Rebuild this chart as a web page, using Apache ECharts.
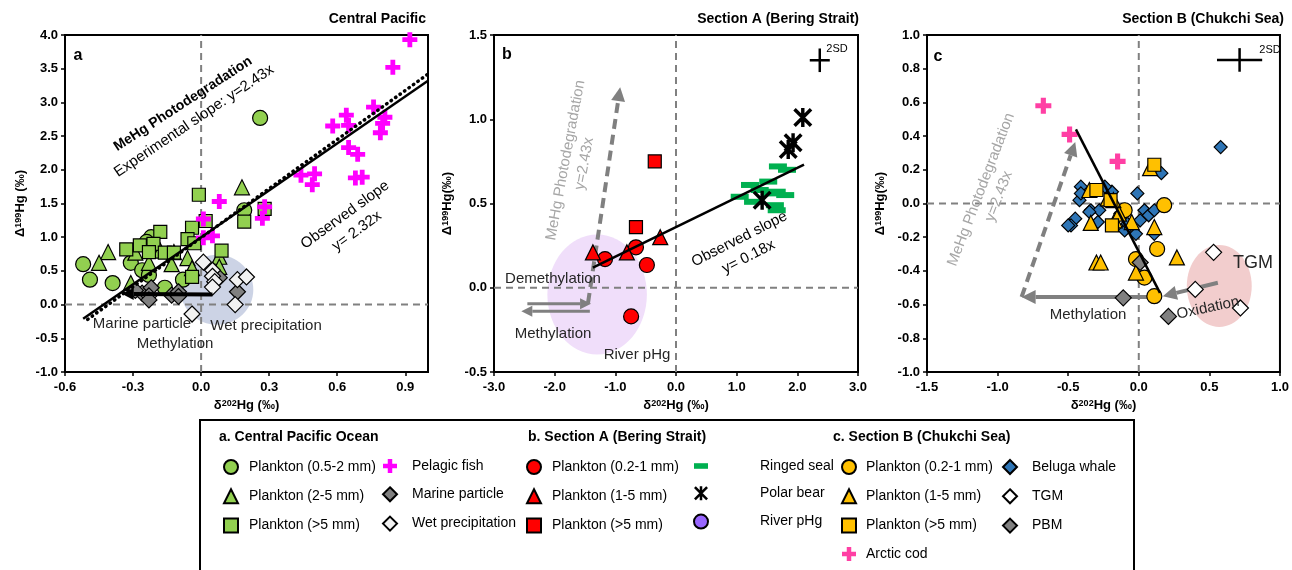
<!DOCTYPE html>
<html>
<head>
<meta charset="utf-8">
<script src="https://cdn.jsdelivr.net/npm/echarts@6/dist/echarts.min.js"></script>
<style>html,body{margin:0;padding:0;background:#fff}#chart-container{width:1292px;height:570px}</style>
</head>
<body>
<div id="chart-container"></div>
<script>
var dom = document.getElementById('chart-container');
var myChart = echarts.init(dom, null, { renderer: 'canvas' });

const FONT = '"Liberation Sans", Arial, sans-serif';

// ---- panel a : Central Pacific ----
const aCircle = [[-0.52,0.60],[-0.49,0.37],[-0.39,0.32],[-0.22,1.00],[-0.31,0.62],[-0.26,0.51],[-0.23,0.44],[-0.16,0.25],[-0.08,0.37],[0.19,1.40],[0.26,2.77],[-0.24,0.93]];
const aTri = [[-0.41,0.78],[-0.45,0.62],[-0.29,0.77],[-0.23,0.62],[-0.13,0.60],[-0.12,0.78],[-0.06,0.69],[-0.04,0.54],[0.08,0.71],[0.08,0.56],[0.18,1.74],[-0.31,0.32],[-0.18,0.80]];
const aSq = [[-0.01,1.63],[0.28,1.42],[0.19,1.23],[0.02,1.24],[-0.04,1.14],[-0.06,0.97],[-0.03,0.91],[-0.18,1.08],[-0.21,0.90],[-0.27,0.88],[-0.33,0.82],[-0.23,0.78],[-0.16,0.77],[0.09,0.80],[-0.04,0.41],[-0.12,0.77]];
const aFish = [[0.92,3.93],[0.845,3.52],[0.76,2.93],[0.64,2.81],[0.58,2.65],[0.65,2.66],[0.81,2.78],[0.80,2.69],[0.79,2.55],[0.65,2.33],[0.69,2.23],[0.44,1.92],[0.50,1.94],[0.49,1.78],[0.68,1.88],[0.71,1.89],[0.08,1.53],[0.27,1.28],[0.28,1.45],[0.01,1.27],[0.05,1.02],[0.01,0.99]];
const aParticle = [[-0.26,0.17],[-0.22,0.25],[-0.23,0.13],[-0.23,0.07],[-0.13,0.14],[-0.10,0.19],[-0.10,0.12],[0.08,0.40],[0.16,0.19],[-0.29,0.21]];
const aWet = [[0.01,0.63],[0.05,0.51],[0.05,0.42],[0.06,0.34],[0.05,0.26],[0.16,0.37],[0.20,0.41],[0.15,0.00],[-0.04,-0.14]];
const aObserved = [[-0.52,-0.21],[1.0,3.32]];
const aExperimental = [[-0.50,-0.22],[1.0,3.42]];
const aEllipse = [[0.07,0.22,0.16,0.52]];
const aArrows = [[0.05,0.15,-0.35,0.16]];
const aZero = [[0,-1,0,4],[-0.6,0,1.0,0]];

// ---- panel b : Section A (Bering Strait) ----
const bCircle = [[-1.17,0.17],[-0.66,0.24],[-0.48,0.135],[-0.74,-0.17]];
const bTri = [[-1.37,0.21],[-0.81,0.21],[-0.26,0.30]];
const bSq = [[-0.35,0.75],[-0.66,0.36]];
const bBear = [[1.42,0.52],[2.09,1.01],[1.93,0.86],[1.85,0.82]];
const bSeal = [[1.68,0.72],[1.83,0.70],[1.22,0.61],[1.52,0.63],[1.38,0.58],[1.66,0.57],[1.80,0.55],[1.05,0.54],[1.27,0.51],[1.63,0.49],[1.66,0.46],[1.55,0.56]];
const bObserved = [[-1.37,0.12],[2.11,0.73]];
const bEllipse = [[-1.30,-0.04,0.82,0.356]];
const bPhoto = [[-1.45,-0.09,-0.92,1.19]];
const bShift = [[-2.45,-0.095,-1.40,-0.095],[-1.42,-0.14,-2.55,-0.14]];
const bSD = [[2.37,1.35,0.165,0.07]];
const bZero = [[0,-0.5,0,1.5],[-3,0,3,0]];

// ---- panel c : Section B (Chukchi Sea) ----
const cCod = [[-0.676,0.58],[-0.49,0.41],[-0.15,0.25]];
const cBeluga = [[0.58,0.335],[-0.01,0.06],[0.16,0.18],[-0.41,0.10],[-0.42,0.02],[-0.41,0.06],[-0.19,0.07],[-0.24,0.10],[-0.34,-0.04],[-0.28,-0.04],[-0.45,-0.09],[-0.48,-0.13],[-0.29,-0.11],[0.04,-0.04],[0.07,-0.07],[0.11,-0.04],[0.01,-0.10],[-0.02,-0.18],[-0.10,-0.16],[0.11,-0.18],[-0.13,-0.06],[-0.50,-0.13],[-0.35,-0.05],[-0.08,-0.12]];
const cCircle = [[-0.10,-0.04],[0.18,-0.01],[0.13,-0.27],[-0.02,-0.33],[0.04,-0.44],[0.11,-0.55]];
const cTri = [[0.08,0.21],[-0.35,0.08],[-0.22,0.03],[-0.18,0.02],[-0.34,-0.115],[-0.05,-0.11],[-0.17,-0.10],[0.11,-0.14],[-0.30,-0.35],[-0.27,-0.35],[0.27,-0.32],[-0.02,-0.41],[-0.14,-0.06]];
const cSq = [[0.11,0.23],[-0.30,0.08],[-0.20,0.02],[-0.19,-0.13]];
const cTGM = [[0.53,-0.29],[0.40,-0.51],[0.72,-0.62]];
const cPBM = [[-0.11,-0.56],[0.21,-0.67],[0.01,-0.35]];
const cLine = [[-0.445,0.44],[0.15,-0.53]];
const cEllipse = [[0.57,-0.49,0.23,0.243]];
const cPhoto = [[-0.83,-0.555,-0.45,0.365]];
const cShift = [[0.13,-0.555,-0.83,-0.555],[0.56,-0.47,0.17,-0.55]];
const cSD = [[0.714,0.852,0.16,0.07]];
const cZero = [[0,-1,0,1],[-1.5,0,1,0]];

const CROSS = 'path://M3.4,0H6.6V3.4H10V6.6H6.6V10H3.4V6.6H0V3.4H3.4Z';
const STAR = 'path://M4.1,0H5.9V10H4.1Z M0,1.3L1.3,0L10,8.7L8.7,10Z M8.7,0L10,1.3L1.3,10L0,8.7Z';

function fmt(v) {
  return (Math.abs(v) < 1e-9 ? 0 : v).toFixed(1);
}

const rich = {
  b: { fontSize: 13, fontWeight: 'bold', fontFamily: FONT, color: '#000' },
  s: { fontSize: 9, fontWeight: 'bold', fontFamily: FONT, color: '#000', verticalAlign: 'top' }
};

function axis(grid, min, max, interval, isX, gap, name, hideMax) {
  return {
    type: 'value', gridIndex: grid, min: min, max: max, interval: interval,
    name: name, nameLocation: 'middle', nameGap: gap,
    nameTextStyle: { rich: rich },
    axisLine: { show: true, onZero: false, lineStyle: { color: '#000', width: 2 } },
    axisTick: { show: true, inside: false, length: 4, lineStyle: { color: '#000', width: 1.5 } },
    axisLabel: {
      margin: isX ? 9 : 7, color: '#000', fontWeight: 'bold', fontSize: 13, fontFamily: FONT,
      formatter: fmt, showMaxLabel: !hideMax
    },
    splitLine: { show: false }
  };
}

function pts(grid, name, data, symbol, size, color, border) {
  return {
    type: 'scatter', name: name, xAxisIndex: grid, yAxisIndex: grid, data: data, z: 3,
    symbol: symbol, symbolSize: size,
    itemStyle: { color: color, borderColor: '#000', borderWidth: border === undefined ? 1.2 : border, opacity: 1 }
  };
}

function fitLine(grid, data, dotted) {
  return {
    type: 'line', xAxisIndex: grid, yAxisIndex: grid, data: data, symbol: 'none', z: 4, silent: true,
    lineStyle: dotted ? { color: '#000', width: 3.5, type: [0.5, 5], cap: 'round' } : { color: '#000', width: 2.5 }
  };
}

function ellipse(grid, data, color) {
  return {
    type: 'custom', coordinateSystem: 'cartesian2d', xAxisIndex: grid, yAxisIndex: grid, z: 1, silent: true,
    data: data, itemStyle: { color: color },
    renderItem: function (params, api) {
      const c = api.coord([api.value(0), api.value(1)]);
      const ex = api.coord([api.value(0) + api.value(2), api.value(1)]);
      const ey = api.coord([api.value(0), api.value(1) + api.value(3)]);
      return {
        type: 'ellipse',
        shape: { cx: c[0], cy: c[1], rx: Math.abs(ex[0] - c[0]), ry: Math.abs(c[1] - ey[1]) },
        style: { fill: color }
      };
    }
  };
}

// straight segments with an optional arrow head at the end
function segments(grid, data, color, width, dash, head, z) {
  return {
    type: 'custom', coordinateSystem: 'cartesian2d', xAxisIndex: grid, yAxisIndex: grid, z: z, silent: true,
    data: data,
    renderItem: function (params, api) {
      const p1 = api.coord([api.value(0), api.value(1)]);
      const p2 = api.coord([api.value(2), api.value(3)]);
      const dx = p2[0] - p1[0], dy = p2[1] - p1[1];
      const len = Math.hypot(dx, dy), ux = dx / len, uy = dy / len;
      const bx = p2[0] - ux * head, by = p2[1] - uy * head, w = head * 0.5;
      const children = [{
        type: 'line', shape: { x1: p1[0], y1: p1[1], x2: bx, y2: by },
        style: { stroke: color, lineWidth: width, lineDash: dash }
      }];
      if (head > 0) {
        children.push({
          type: 'polygon',
          shape: { points: [[p2[0], p2[1]], [bx - uy * w, by + ux * w], [bx + uy * w, by - ux * w]] },
          style: { fill: color }
        });
      }
      return { type: 'group', children: children };
    }
  };
}

function sdCross(grid, data) {
  return {
    type: 'custom', coordinateSystem: 'cartesian2d', xAxisIndex: grid, yAxisIndex: grid, z: 4, silent: true,
    data: data,
    renderItem: function (params, api) {
      const x = api.value(0), y = api.value(1), dx = api.value(2), dy = api.value(3);
      const l = api.coord([x - dx, y]), r = api.coord([x + dx, y]);
      const t = api.coord([x, y + dy]), b = api.coord([x, y - dy]);
      return {
        type: 'group', children: [
          { type: 'line', shape: { x1: l[0], y1: l[1], x2: r[0], y2: r[1] }, style: { stroke: '#000', lineWidth: 2.5 } },
          { type: 'line', shape: { x1: t[0], y1: t[1], x2: b[0], y2: b[1] }, style: { stroke: '#000', lineWidth: 2.5 } }
        ]
      };
    }
  };
}

function txt(x, y, text, size, opts) {
  opts = opts || {};
  return {
    type: 'text', x: x, y: y, z: 20, silent: true,
    rotation: (opts.rot || 0) * Math.PI / 180,
    style: {
      text: text,
      font: (opts.bold ? 'bold ' : '') + size + 'px ' + FONT,
      fill: opts.color || '#000',
      lineHeight: opts.lh || size + 4,
      align: opts.align || 'center', textAlign: opts.align || 'center',
      verticalAlign: 'middle', textVerticalAlign: 'middle'
    }
  };
}

const xName = '{b|δ}{s|202}{b|Hg (‰)}';

function legendCol(left, names, pad) {
  return {
    orient: 'vertical', left: left, top: 459, padding: 0,
    itemWidth: 14, itemHeight: 14, itemGap: 13.3, selectedMode: false,
    textStyle: { fontSize: 14, color: '#000', fontFamily: FONT, padding: [0, 0, 0, pad] },
    formatter: function (n) { return n.trim(); },
    data: names
  };
}

const GREY = '#808080';
const ANN = '#262626';

option = {
  animation: false,
  backgroundColor: '#fff',
  grid: [
    { left: 65, top: 35, width: 363, height: 337, show: true, borderColor: '#000', borderWidth: 2 },
    { left: 494, top: 35, width: 364, height: 337, show: true, borderColor: '#000', borderWidth: 2 },
    { left: 927, top: 35, width: 358, height: 337, show: true, borderColor: '#000', borderWidth: 2 }
  ],
  xAxis: [
    axis(0, -0.6, 1.0, 0.3, true, 27, xName, true),
    axis(1, -3, 3, 1, true, 27, xName),
    axis(2, -1.5, 1, 0.5, true, 27, xName)
  ],
  yAxis: [
    axis(0, -1, 4, 0.5, false, 38, '{b|Δ}{s|199}{b|Hg (‰)}'),
    axis(1, -0.5, 1.5, 0.5, false, 40, '{b|Δ}{s|199}{b|Hg(‰)}'),
    axis(2, -1, 1, 0.2, false, 40, '{b|Δ}{s|199}{b|Hg(‰)}')
  ],
  legend: [
    legendCol(223, ['Plankton (0.5-2 mm)', 'Plankton (2-5 mm)', 'Plankton (>5 mm)'], 6),
    legendCol(382, ['Pelagic fish', 'Marine particle', 'Wet precipitation'], 10),
    legendCol(526, ['Plankton (0.2-1 mm)', 'Plankton (1-5 mm)', 'Plankton (>5 mm) '], 6),
    legendCol(693, [{ name: 'Ringed seal', icon: 'path://M0,0H10V4H0Z' }, 'Polar bear', 'River pHg'], 47),
    legendCol(841, ['Plankton (0.2-1 mm) ', 'Plankton (1-5 mm) ', 'Plankton (>5 mm)  ', 'Arctic cod'], 5),
    legendCol(1002, ['Beluga whale', 'TGM', 'PBM'], 10)
  ],
  graphic: {
    elements: [
      { type: 'rect', shape: { x: 200, y: 420, width: 934, height: 170 }, style: { fill: 'none', stroke: '#000', lineWidth: 2 }, z: 0, silent: true },
      txt(219, 437, 'a. Central Pacific Ocean', 14, { bold: true, align: 'left' }),
      txt(528, 437, 'b. Section A (Bering Strait)', 14, { bold: true, align: 'left' }),
      txt(833, 437, 'c. Section B (Chukchi Sea)', 14, { bold: true, align: 'left' }),

      txt(426, 19, 'Central Pacific', 14, { bold: true, align: 'right' }),
      txt(859, 19, 'Section A (Bering Strait)', 14, { bold: true, align: 'right' }),
      txt(1284, 19, 'Section B (Chukchi Sea)', 14, { bold: true, align: 'right' }),
      txt(78, 56, 'a', 16, { bold: true }),
      txt(507, 55, 'b', 16, { bold: true }),
      txt(938, 57, 'c', 16, { bold: true }),

      // panel a annotations
      txt(183, 104, 'MeHg Photodegradation', 14, { bold: true, rot: 33 }),
      txt(194, 121, 'Experimental slope: y=2.43x', 15, { rot: 34 }),
      txt(351, 223, 'Observed slope\ny= 2.32x', 15, { rot: 36, lh: 20 }),
      txt(142, 324, 'Marine particle', 15, { color: ANN }),
      txt(175, 344, 'Methylation', 15, { color: ANN }),
      txt(266, 326, 'Wet precipitation', 15, { color: ANN }),

      // panel b annotations
      txt(575, 162, 'MeHg Photodegradation\ny=2.43x', 15, { rot: 79.5, color: '#a6a6a6', lh: 19 }),
      txt(553, 279, 'Demethylation', 15, { color: ANN }),
      txt(553, 334, 'Methylation', 15, { color: ANN }),
      txt(637, 355, 'River pHg', 15, { color: ANN }),
      txt(744, 248, 'Observed slope\ny= 0.18x', 15, { rot: 27, lh: 20 }),
      txt(837, 49, '2SD', 11),

      // panel c annotations
      txt(990, 193, 'MeHg Photodegradation\ny=2.43x', 15, { rot: 69, color: '#a6a6a6', lh: 19 }),
      txt(1088, 315, 'Methylation', 15, { color: ANN }),
      txt(1208, 308, 'Oxidation', 15, { rot: 12, color: ANN }),
      txt(1253, 263, 'TGM', 18, { color: ANN }),
      txt(1270, 50, '2SD', 11)
    ]
  },
  series: [
    // panel a
    ellipse(0, aEllipse, '#ccd3e5'),
    segments(0, aZero, GREY, 2, [7, 5], 0, 2),
    pts(0, 'Plankton (0.5-2 mm)', aCircle, 'circle', 15, '#92d050'),
    pts(0, 'Plankton (2-5 mm)', aTri, 'triangle', 15, '#92d050'),
    pts(0, 'Plankton (>5 mm)', aSq, 'rect', 13, '#92d050'),
    pts(0, 'Pelagic fish', aFish, CROSS, 15, '#ff00ff', 0),
    pts(0, 'Marine particle', aParticle, 'diamond', 16, '#808080'),
    pts(0, 'Wet precipitation', aWet, 'diamond', 16, '#f2f2f2'),
    fitLine(0, aObserved, false),
    fitLine(0, aExperimental, true),
    segments(0, aArrows, '#000', 4, null, 12, 4),

    // panel b
    ellipse(1, bEllipse, '#f0defa'),
    segments(1, bZero, GREY, 2, [7, 5], 0, 2),
    segments(1, bPhoto, GREY, 4, [10, 6], 14, 2),
    segments(1, bShift, GREY, 3, null, 11, 2),
    pts(1, 'River pHg', [], 'circle', 15, '#9966ff'),
    pts(1, 'Ringed seal', bSeal, 'rect', [18, 6], '#00b050', 0),
    pts(1, 'Polar bear', bBear, STAR, 19, '#000', 0),
    pts(1, 'Plankton (0.2-1 mm)', bCircle, 'circle', 15, '#ff0000'),
    pts(1, 'Plankton (1-5 mm)', bTri, 'triangle', 15, '#ff0000'),
    pts(1, 'Plankton (>5 mm) ', bSq, 'rect', 13, '#ff0000'),
    fitLine(1, bObserved, false),
    sdCross(1, bSD),

    // panel c
    ellipse(2, cEllipse, '#f2cdcd'),
    segments(2, cZero, GREY, 2, [7, 5], 0, 2),
    segments(2, cPhoto, GREY, 4, [10, 6], 14, 2),
    segments(2, cShift, GREY, 4, null, 14, 2),
    pts(2, 'Beluga whale', cBeluga, 'diamond', 13, '#2e75b6'),
    pts(2, 'Plankton (0.2-1 mm) ', cCircle, 'circle', 15, '#ffc000'),
    pts(2, 'Plankton (1-5 mm) ', cTri, 'triangle', 15, '#ffc000'),
    pts(2, 'Plankton (>5 mm)  ', cSq, 'rect', 13, '#ffc000'),
    pts(2, 'Arctic cod', cCod, CROSS, 16, '#ff3fa4', 0),
    pts(2, 'TGM', cTGM, 'diamond', 16, '#ffffff'),
    pts(2, 'PBM', cPBM, 'diamond', 16, '#808080'),
    fitLine(2, cLine, false),
    sdCross(2, cSD)
  ]
};

myChart.setOption(option);
window.addEventListener('resize', myChart.resize);
</script>
</body>
</html>
